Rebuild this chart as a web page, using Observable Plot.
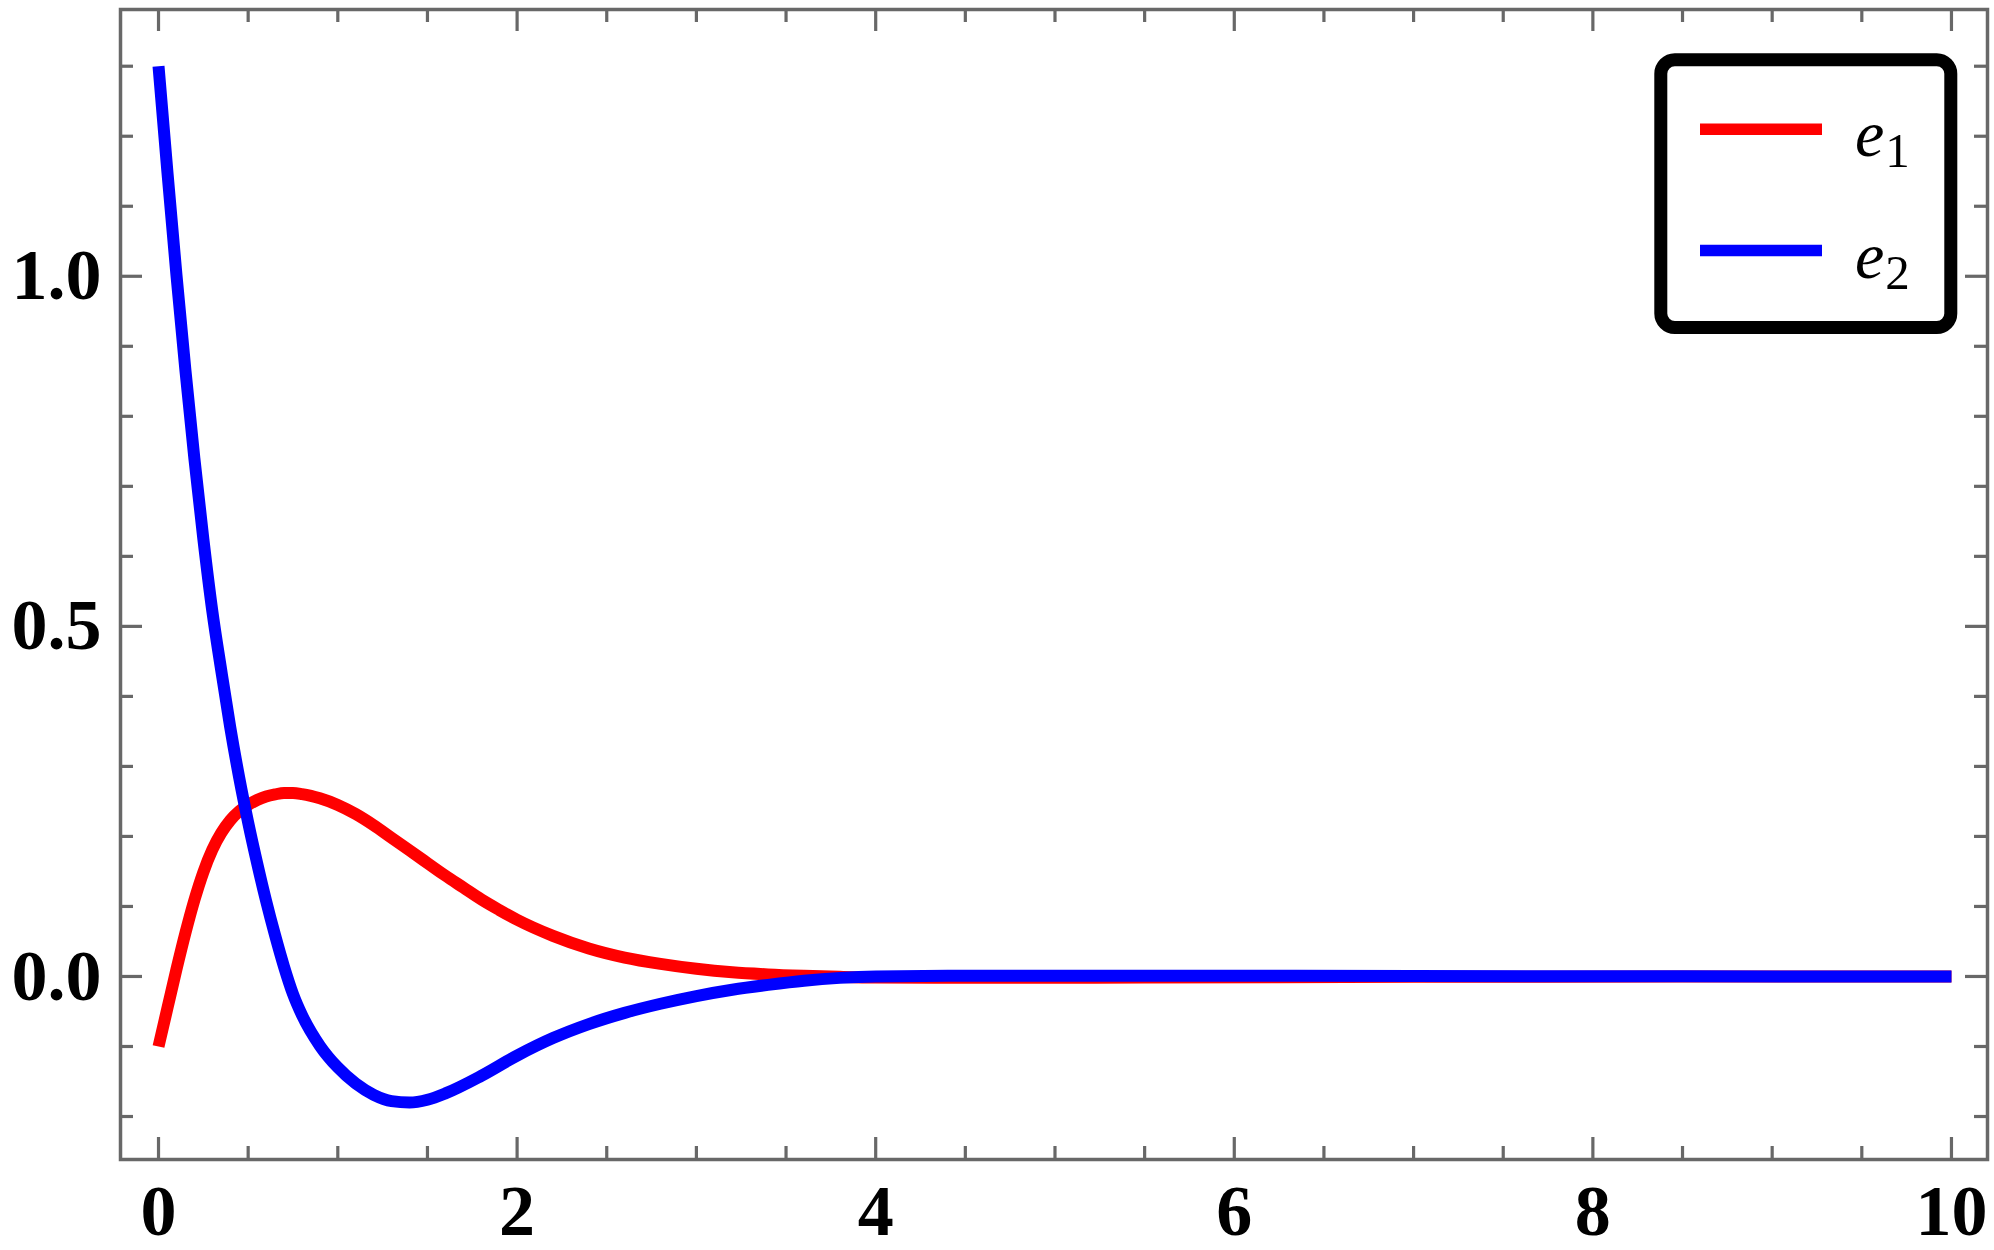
<!DOCTYPE html>
<html>
<head>
<meta charset="utf-8">
<script src="https://cdn.jsdelivr.net/npm/d3@7"></script>
<script src="https://cdn.jsdelivr.net/npm/@observablehq/plot@0.6"></script>
<style>
  html, body { margin: 0; padding: 0; background: #ffffff; }
  #wrap { position: relative; width: 1994px; height: 1250px; overflow: hidden; }
  #legend { position: absolute; left: 0; top: 0; pointer-events: none; }
</style>
</head>
<body>
<div id="wrap"></div>
<script>
// ---- data ----
const seriesNames = ["e1", "e2"];
const seriesColors = ["#ff0000", "#0000ff"];

const tE1 = [0, 0.05, 0.1, 0.15, 0.2, 0.25, 0.3, 0.35, 0.4, 0.45, 0.5, 0.55, 0.6, 0.65, 0.7, 0.75, 0.8, 0.85, 0.9, 1.0, 1.1, 1.2, 1.3, 1.4, 1.5, 1.6, 1.7, 1.8, 1.9, 2.0, 2.2, 2.4, 2.6, 2.8, 3.0, 3.2, 3.4, 3.6, 3.8, 4.0, 4.5, 5.5, 7, 8.5, 10];
const e1 = [-0.100, -0.045, 0.010, 0.062, 0.109, 0.149, 0.181, 0.205, 0.223, 0.236, 0.245, 0.252, 0.257, 0.260, 0.262, 0.262, 0.2605, 0.258, 0.2545, 0.245, 0.232, 0.216, 0.198, 0.180, 0.162, 0.144, 0.127, 0.110, 0.095, 0.081, 0.058, 0.040, 0.027, 0.018, 0.011, 0.006, 0.003, 0.001, -0.0005, -0.0015, -0.002, -0.0015, -0.0005, -0.0002, 0];

const tE2 = [0, 0.05, 0.1, 0.15, 0.2, 0.25, 0.3, 0.35, 0.4, 0.45, 0.5, 0.55, 0.6, 0.65, 0.7, 0.75, 0.8, 0.9, 1.0, 1.1, 1.2, 1.3, 1.4, 1.5, 1.6, 1.8, 2.0, 2.2, 2.4, 2.6, 2.8, 3.0, 3.2, 3.4, 3.6, 3.8, 4.0, 4.5, 5.5, 7, 8.5, 10];
const e2 = [1.300, 1.148, 1.002, 0.866, 0.740, 0.625, 0.522, 0.437, 0.356, 0.284, 0.220, 0.162, 0.108, 0.059, 0.014, -0.025, -0.055, -0.099, -0.130, -0.153, -0.169, -0.178, -0.180, -0.176, -0.167, -0.142, -0.113, -0.088, -0.068, -0.052, -0.039, -0.028, -0.019, -0.012, -0.006, -0.002, 0.000, 0.001, 0.0012, 0.0005, 0.0002, 0];

const xMajor = [0, 2, 4, 6, 8, 10];
const xMinor = [0.5, 1, 1.5, 2.5, 3, 3.5, 4.5, 5, 5.5, 6.5, 7, 7.5, 8.5, 9, 9.5];
const yMajor = [0, 0.5, 1.0];
const yMinor = [-0.2, -0.1, 0.1, 0.2, 0.3, 0.4, 0.6, 0.7, 0.8, 0.9, 1.1, 1.2, 1.3];

// ---- layout ----
const W = 1994, H = 1250;
const mL = 120, mR = 7, mT = 9, mB = 91;
const plotW = W - mL - mR, plotH = H - mT - mB;
const frameColor = "#686868";
const majorLen = 22, minorLen = 13;
const serif = "'Liberation Serif', 'Times New Roman', Times, serif";

const d1 = tE1.map((t, i) => ({t, v: e1[i], s: seriesNames[0]}));
const d2 = tE2.map((t, i) => ({t, v: e2[i], s: seriesNames[1]}));

const tickStyle = {stroke: frameColor, strokeWidth: 3.2};

const chart = Plot.plot({
  width: W,
  height: H,
  marginLeft: mL,
  marginRight: mR,
  marginTop: mT,
  marginBottom: mB,
  style: {fontFamily: serif, background: "#ffffff", color: "#000000"},
  x: {domain: [-0.212, 10.201], label: null},
  y: {domain: [-0.2614, 1.381], label: null},
  marks: [
    // inward ticks: bottom, top, left, right
    Plot.ruleX(xMajor, {x: d => d, insetTop: plotH - majorLen, ...tickStyle}),
    Plot.ruleX(xMinor, {x: d => d, insetTop: plotH - minorLen, ...tickStyle}),
    Plot.ruleX(xMajor, {x: d => d, insetBottom: plotH - majorLen, ...tickStyle}),
    Plot.ruleX(xMinor, {x: d => d, insetBottom: plotH - minorLen, ...tickStyle}),
    Plot.ruleY(yMajor, {y: d => d, insetRight: plotW - majorLen, ...tickStyle}),
    Plot.ruleY(yMinor, {y: d => d, insetRight: plotW - minorLen, ...tickStyle}),
    Plot.ruleY(yMajor, {y: d => d, insetLeft: plotW - majorLen, ...tickStyle}),
    Plot.ruleY(yMinor, {y: d => d, insetLeft: plotW - minorLen, ...tickStyle}),
    Plot.axisX({
      ticks: xMajor, tickSize: 0, tickPadding: 24, tickFormat: d => String(d),
      fontSize: 72, fontWeight: "bold", fontFamily: serif, fill: "#000000", label: null
    }),
    Plot.axisY({
      ticks: yMajor, tickSize: 0, tickPadding: 19, tickFormat: d3.format(".1f"),
      fontSize: 72, fontWeight: "bold", fontFamily: serif, fill: "#000000", label: null
    }),
    Plot.line(d1, {x: "t", y: "v", stroke: seriesColors[0], strokeWidth: 12, curve: "monotone-x", strokeLinecap: "butt", strokeLinejoin: "round"}),
    Plot.line(d2, {x: "t", y: "v", stroke: seriesColors[1], strokeWidth: 12, curve: "monotone-x", strokeLinecap: "butt", strokeLinejoin: "round"}),
    Plot.frame({stroke: frameColor, strokeWidth: 3.5})
  ]
});

const wrap = document.getElementById("wrap");
wrap.appendChild(chart);

// ---- legend (overlay) ----
const ns = "http://www.w3.org/2000/svg";
const leg = document.createElementNS(ns, "svg");
leg.setAttribute("id", "legend");
leg.setAttribute("width", W);
leg.setAttribute("height", H);
const box = document.createElementNS(ns, "rect");
Object.entries({x: 1660.8, y: 59.8, width: 290, height: 267.7, rx: 14, ry: 14, fill: "#ffffff", stroke: "#000000", "stroke-width": 13}).forEach(([k, v]) => box.setAttribute(k, v));
leg.appendChild(box);
const rows = [{y: 129.2, base: 156, sub: "1"}, {y: 250.5, base: 278, sub: "2"}];
rows.forEach((r, i) => {
  const ln = document.createElementNS(ns, "line");
  Object.entries({x1: 1700, x2: 1822, y1: r.y, y2: r.y, stroke: seriesColors[i], "stroke-width": 11.5}).forEach(([k, v]) => ln.setAttribute(k, v));
  leg.appendChild(ln);
  const tx = document.createElementNS(ns, "text");
  tx.setAttribute("x", 1855);
  tx.setAttribute("y", r.base);
  tx.setAttribute("font-family", serif);
  tx.setAttribute("font-size", 66);
  tx.setAttribute("font-style", "italic");
  tx.setAttribute("fill", "#000000");
  tx.appendChild(document.createTextNode("e"));
  const ts = document.createElementNS(ns, "tspan");
  ts.setAttribute("font-style", "normal");
  ts.setAttribute("font-size", 49);
  ts.setAttribute("dy", 11);
  ts.setAttribute("dx", 1);
  ts.textContent = r.sub;
  tx.appendChild(ts);
  leg.appendChild(tx);
});
wrap.appendChild(leg);
</script>
</body>
</html>
